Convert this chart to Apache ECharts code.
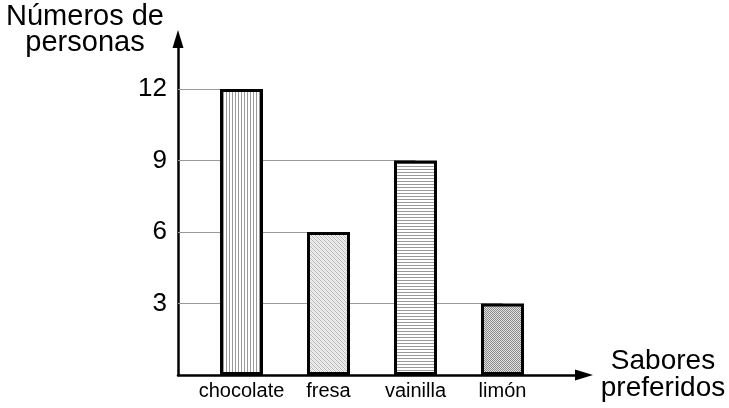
<!DOCTYPE html>
<html><head><meta charset="utf-8">
<script src="https://cdn.jsdelivr.net/npm/echarts@6/dist/echarts.min.js"></script>
<style>html,body{margin:0;padding:0;background:#fff}#c{width:729px;height:408px}</style>
</head><body><div id="c"></div>
<script>
// ---- data ----
const categories = ['chocolate', 'fresa', 'vainilla', 'limón'];
const personas = [12, 6, 9, 3];
const yTicks = [3, 6, 9, 12];
const yAxisName = 'Números de\npersonas';
const xAxisName = 'Sabores\npreferidos';

// ---- style / layout ----
const FONT = '"Liberation Sans", Arial, sans-serif';
const AXIS_LEFT = 178;
const GRID_TOP = 39;
const GRID_BOTTOM = 33;
const Y_MAX = 14.1;
const patternKinds = ['vertical', 'diagonal', 'horizontal', 'checker'];

function makePattern(kind) {
  const c = document.createElement('canvas');
  const ctx = c.getContext('2d');
  if (kind === 'vertical') {
    c.width = 3; c.height = 3;
    ctx.fillStyle = '#fff'; ctx.fillRect(0, 0, 3, 3);
    ctx.fillStyle = '#999'; ctx.fillRect(1, 0, 1, 3);
  } else if (kind === 'horizontal') {
    c.width = 3; c.height = 3;
    ctx.fillStyle = '#fff'; ctx.fillRect(0, 0, 3, 3);
    ctx.fillStyle = '#999'; ctx.fillRect(0, 1, 3, 1);
  } else if (kind === 'diagonal') {
    c.width = 4; c.height = 4;
    ctx.fillStyle = '#f4f4f4'; ctx.fillRect(0, 0, 4, 4);
    for (let y = 0; y < 4; y++) {
      ctx.fillStyle = '#b4b4b4'; ctx.fillRect(y % 4, y, 1, 1);
      ctx.fillStyle = '#dcdcdc'; ctx.fillRect((y + 2) % 4, y, 1, 1);
    }
  } else {
    c.width = 2; c.height = 2;
    ctx.fillStyle = '#e2e2e2'; ctx.fillRect(0, 0, 2, 2);
    ctx.fillStyle = '#8a8a8a'; ctx.fillRect(0, 0, 1, 1); ctx.fillRect(1, 1, 1, 1);
  }
  return c;
}

const chart = echarts.init(document.getElementById('c'), null, { renderer: 'canvas' });

const axisLineStyle = { color: '#000', width: 2.5 };

const option = {
  animation: false,
  backgroundColor: '#fff',
  grid: [
    { left: 198, right: 183, top: GRID_TOP, bottom: GRID_BOTTOM },
    { left: AXIS_LEFT, right: 145, top: GRID_TOP, bottom: GRID_BOTTOM }
  ],
  xAxis: [
    {
      gridIndex: 0, type: 'category', data: categories,
      axisLine: { show: false }, axisTick: { show: false }, splitLine: { show: false },
      axisLabel: { color: '#000', fontSize: 20, fontFamily: FONT, margin: 6, interval: 0, hideOverlap: false }
    },
    {
      gridIndex: 1, type: 'value', min: 0, max: 1,
      axisLine: { show: true, symbol: ['none', 'triangle'], symbolSize: [11, 18], lineStyle: axisLineStyle },
      axisTick: { show: false }, axisLabel: { show: false }, splitLine: { show: false },
      name: xAxisName, nameLocation: 'end', nameGap: 79,
      nameTextStyle: { color: '#000', fontSize: 28, fontFamily: FONT, align: 'center', verticalAlign: 'middle', lineHeight: 27 }
    }
  ],
  yAxis: [
    { gridIndex: 0, type: 'value', min: 0, max: Y_MAX, show: false, splitLine: { show: false } },
    {
      gridIndex: 1, type: 'value', min: 0, max: Y_MAX, interval: 3,
      axisLine: { show: true, symbol: ['none', 'triangle'], symbolSize: [11, 18], lineStyle: axisLineStyle },
      axisTick: { show: false }, splitLine: { show: false },
      axisLabel: {
        color: '#000', fontSize: 26, fontFamily: FONT, margin: 11,
        formatter: v => (yTicks.indexOf(v) >= 0 ? String(v) : '')
      },
      name: yAxisName, nameLocation: 'end', nameGap: GRID_TOP - 4,
      nameTextStyle: { color: '#000', fontSize: 29, fontFamily: FONT, align: 'center', verticalAlign: 'top', lineHeight: 26, padding: [0, 186, 0, 0] }
    }
  ],
  series: [{
    type: 'bar', xAxisIndex: 0, yAxisIndex: 0, barWidth: 43,
    data: personas.map((v, i) => ({
      value: v,
      itemStyle: { color: { image: makePattern(patternKinds[i]), repeat: 'repeat' } }
    })),
    itemStyle: { borderColor: '#000', borderWidth: 3 },
    emphasis: { disabled: true },
    markLine: {
      silent: true, z: 1, symbol: ['none', 'none'], animation: false,
      label: { show: false },
      emphasis: { disabled: true },
      lineStyle: { color: '#9a9a9a', width: 1, type: 'solid' },
      data: yTicks.map(t => {
        const idx = personas.indexOf(t);
        return [{ x: AXIS_LEFT, yAxis: t }, { xAxis: categories[idx], yAxis: t }];
      })
    }
  }]
};
chart.setOption(option);
</script>
</body></html>
